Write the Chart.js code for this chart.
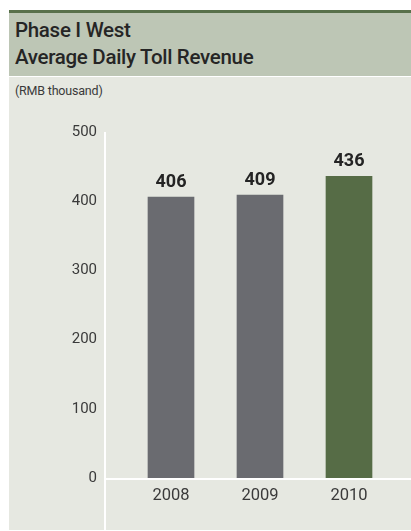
<!DOCTYPE html>
<html>
<head>
<meta charset="utf-8">
<script src="https://cdn.jsdelivr.net/npm/chart.js@4/dist/chart.umd.min.js"></script>
<style>
  html, body { margin: 0; padding: 0; background: #fff; }
  body { width: 411px; height: 531px; position: relative; overflow: hidden; font-family: Roboto, "Liberation Sans", Arial, sans-serif; }
  .rule   { position: absolute; left: 9px; top: 10px; width: 402px; height: 3px; background: #58704a; }
  .header { position: absolute; left: 9px; top: 13px; width: 402px; height: 63px; background: #bdc6b5; }
  .title  { position: absolute; left: 6px; top: 4px; font-size: 20.5px; font-weight: 500; line-height: 26.5px; color: #252525; letter-spacing: -0.3px; }
  .body   { position: absolute; left: 9px; top: 77px; width: 402px; height: 453px; background: #e6e8e1; }
  .unit   { position: absolute; left: 6px; top: 6px; font-size: 12.5px; color: #3a3a3a; letter-spacing: -0.2px; }
  .wrap   { position: absolute; left: 9px; top: 100px; width: 402px; height: 430px; }
  canvas  { display: block; }
</style>
</head>
<body>
<div class="rule"></div>
<div class="header"><div class="title">Phase I West<br>Average Daily Toll Revenue</div></div>
<div class="body"><div class="unit">(RMB thousand)</div></div>
<div class="wrap"><canvas id="tollChart" width="402" height="430"></canvas></div>

<script>
// ── Données ────────────────────────────────────────────────────────────────
const years    = ['2008', '2009', '2010'];
const revenue  = [406, 409, 436];
const barColor = ['#6a6b70', '#6a6b70', '#566c46'];
const yTicks   = [0, 100, 200, 300, 400, 500];

const FONT = 'Roboto, "Liberation Sans", sans-serif';

// Lignes blanches des axes (prolongées sous les libellés)
const axisLines = {
  id: 'axisLines',
  beforeDatasetsDraw(chart) {
    const { ctx, chartArea, scales: { y } } = chart;
    const x0 = chartArea.left - 21.5;
    const y0 = y.getPixelForValue(0) + 1;
    ctx.save();
    ctx.strokeStyle = '#ffffff';
    ctx.lineWidth = 2;
    ctx.beginPath();
    ctx.moveTo(x0, chartArea.top);
    ctx.lineTo(x0, chart.height);
    ctx.moveTo(x0 - 1, y0);
    ctx.lineTo(chart.width, y0);
    ctx.stroke();
    ctx.restore();
  },
};

// Valeurs au-dessus des barres
const valueLabels = {
  id: 'valueLabels',
  afterDatasetsDraw(chart) {
    const { ctx } = chart;
    const meta = chart.getDatasetMeta(0);
    ctx.save();
    ctx.font = `bold 18px ${FONT}`;
    ctx.fillStyle = '#242424';
    ctx.textAlign = 'center';
    ctx.textBaseline = 'alphabetic';
    meta.data.forEach((bar, i) => {
      ctx.fillText(String(revenue[i]), bar.x, bar.y - 10);
    });
    ctx.restore();
  },
};

new Chart(document.getElementById('tollChart'), {
  type: 'bar',
  data: {
    labels: years,
    datasets: [{
      data: revenue,
      backgroundColor: barColor,
      borderWidth: 0,
      barThickness: 46,
    }],
  },
  options: {
    responsive: false, animation: false,
    layout: { padding: { top: 32, right: 17.5, left: 0, bottom: 0 } },
    plugins: { legend: { display: false }, tooltip: { enabled: false } },
    scales: {
      x: {
        grid: { display: false, drawTicks: false },
        border: { display: false },
        ticks: { color: '#3a3a3a', font: { family: FONT, size: 16.5 }, padding: 7.5 },
        afterFit: s => { s.height = 52; },
      },
      y: {
        min: 0, max: 500,
        // marques invisibles : seules servent à décaler les libellés
        grid: { display: false, drawTicks: true, tickLength: 27.5 },
        border: { display: false },
        afterBuildTicks: s => { s.ticks = yTicks.map(v => ({ value: v })); },
        ticks: { color: '#3a3a3a', font: { family: FONT, size: 15 }, padding: 2 },
        afterFit: s => { s.width = 117.5; },
      },
    },
  },
  plugins: [axisLines, valueLabels],
});
</script>
</body>
</html>
